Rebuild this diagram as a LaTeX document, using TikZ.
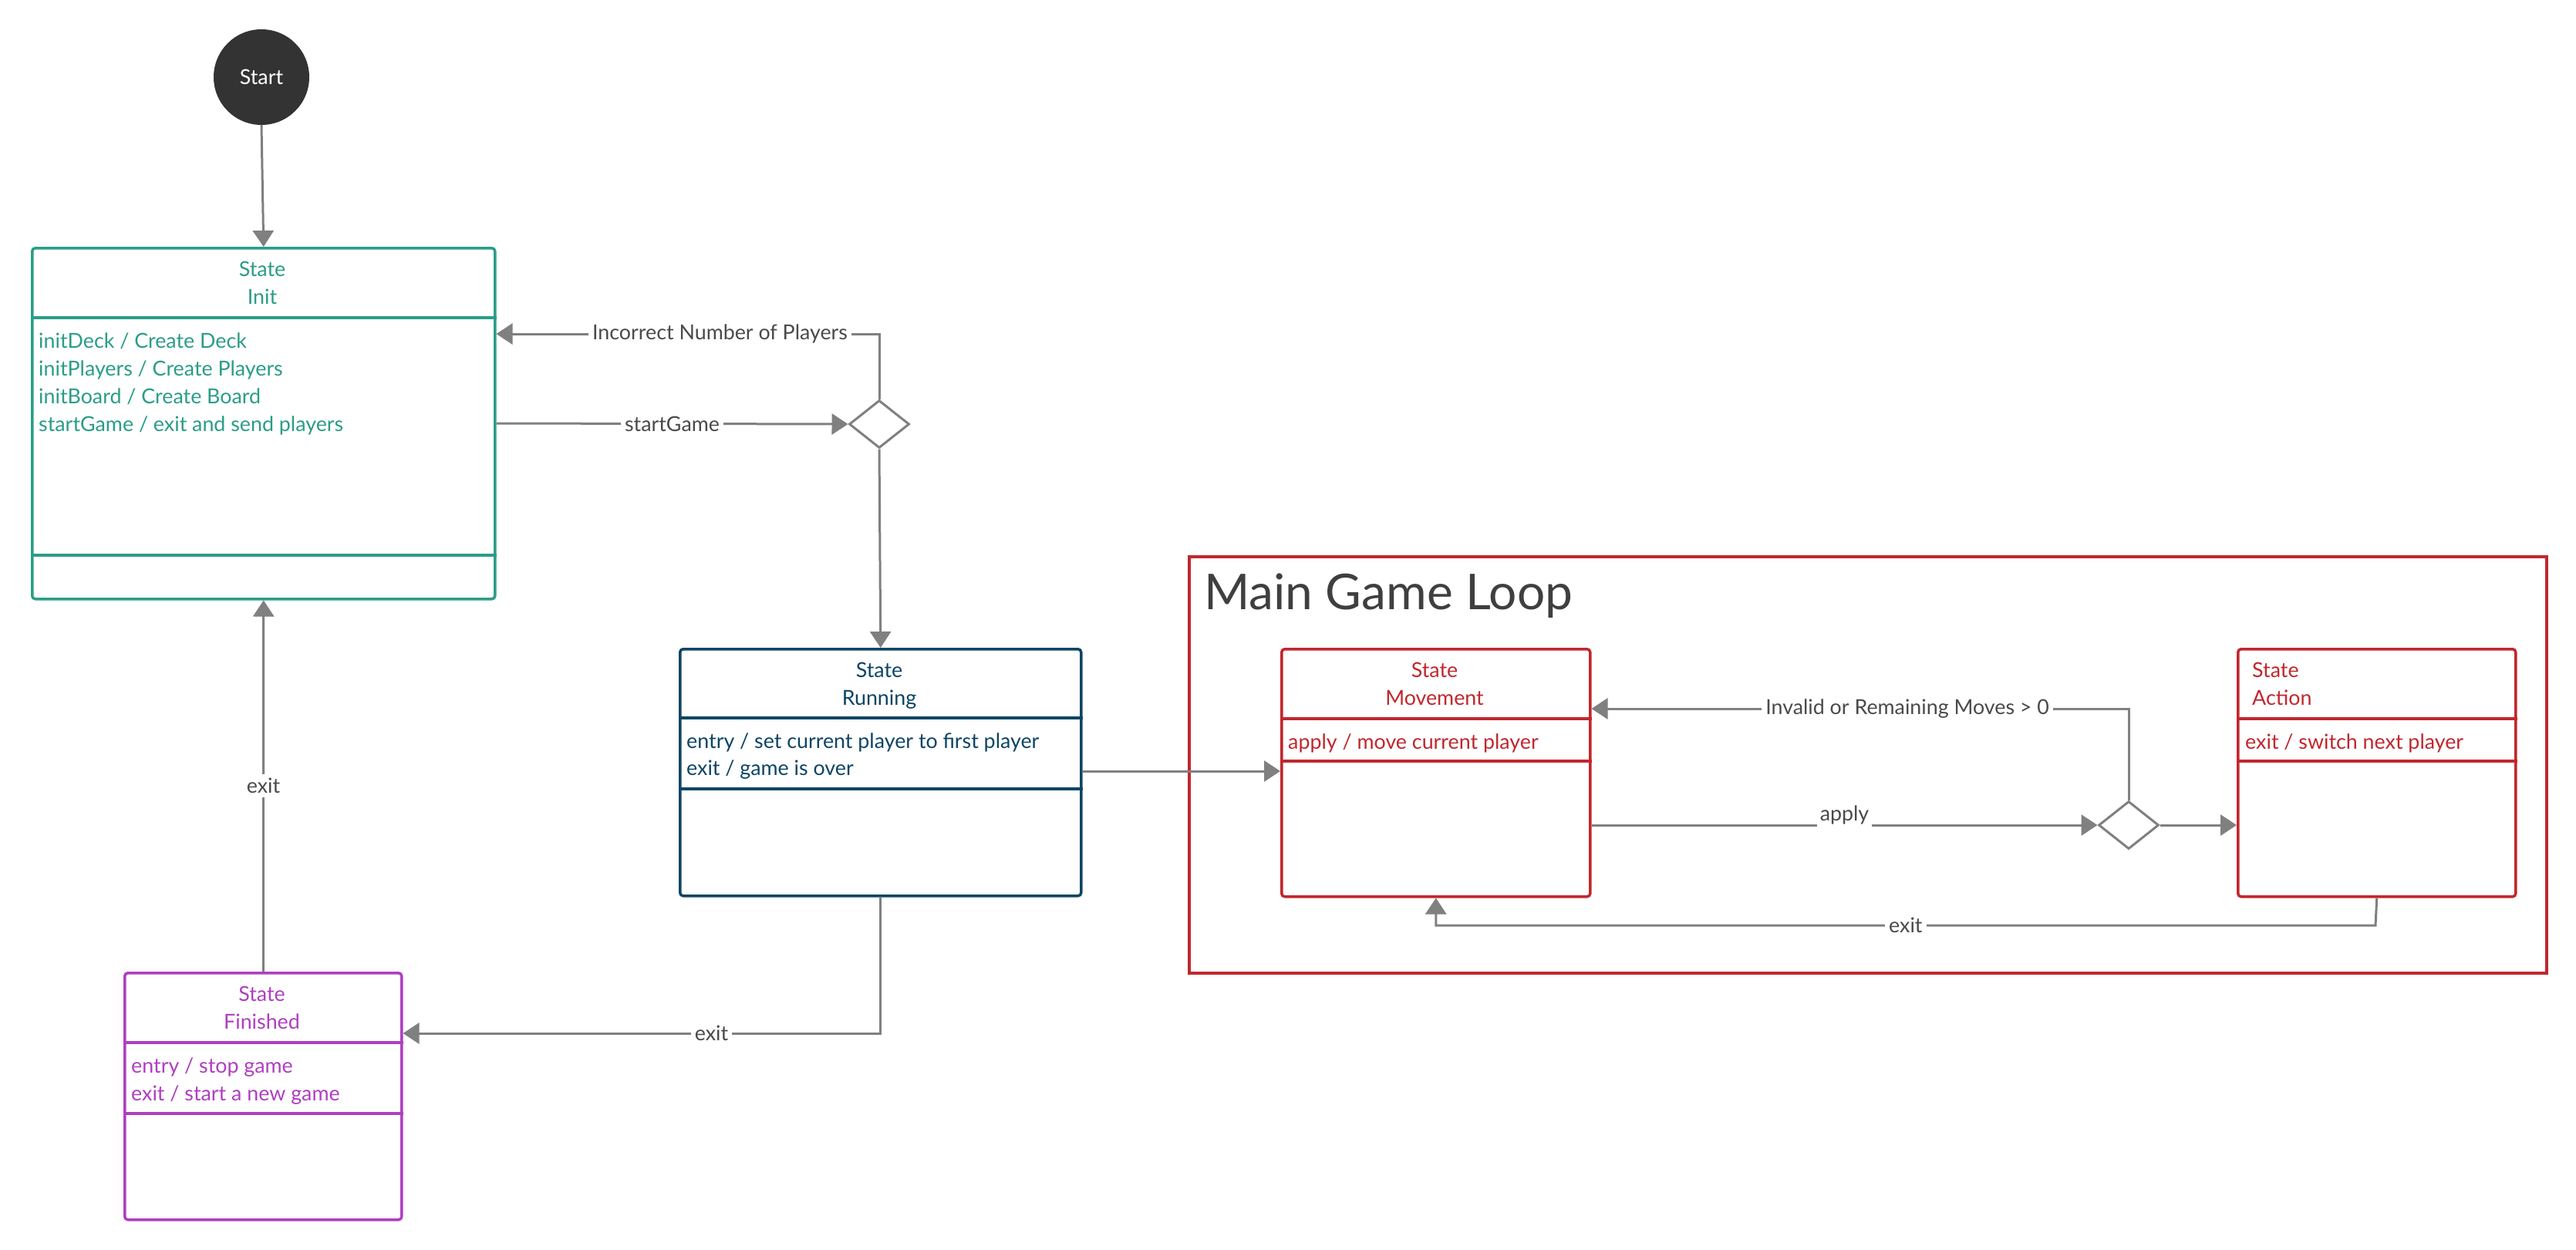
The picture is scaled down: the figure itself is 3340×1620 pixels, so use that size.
\documentclass[tikz,border=0pt]{standalone}
\usepackage{fontspec}
\setmainfont{Lato}
\usetikzlibrary{arrows.meta,shapes.geometric}
\definecolor{tealc}{HTML}{2A9D88}
\definecolor{navyc}{HTML}{0E4565}
\definecolor{redc}{HTML}{C1272D}
\definecolor{purpc}{HTML}{AF3FC0}
\definecolor{connc}{HTML}{808080}
\definecolor{labc}{HTML}{4A4A4A}
\definecolor{titlec}{HTML}{3F3F3F}
\definecolor{startc}{HTML}{333333}
\newcommand\bodyf{\fontsize{26.8}{33}\selectfont}
\tikzset{
  statebox/.style={draw, line width=3.5pt, rounded corners=4pt, anchor=north west, inner sep=0pt, fill=white},
  conn/.style={draw=connc, line width=3pt},
  arr/.style={conn, -{Triangle[length=21pt,width=27pt]}},
  lab/.style={fill=white, text=labc, font=\bodyf, inner sep=5pt},
  txt/.style={inner sep=0pt, font=\bodyf},
  choice/.style={diamond, draw=connc, line width=3pt, fill=white, minimum width=78pt, minimum height=62pt, inner sep=0pt}
}
\begin{document}
\begin{tikzpicture}[x=1pt,y=-1pt]
\useasboundingbox (0,0) rectangle (3340,1620);

% Start
\node[circle, fill=startc, minimum size=124pt, inner sep=0pt, text=white, font=\bodyf] (start) at (339,100) {Start};

% Init
\node[statebox, draw=tealc, minimum width=600pt, minimum height=455pt] (init) at (40,320) {};
\draw[tealc, line width=3.5pt] (init.west |- 0,412) -- (init.east |- 0,412);
\draw[tealc, line width=3.5pt] (init.west |- 0,720) -- (init.east |- 0,720);
\node[txt, text=tealc, anchor=base] (i1) at (340,358) {State};
\node[txt, text=tealc, anchor=base] (i2) at (340,394) {Init};
\node[txt, text=tealc, anchor=base west] (i3) at (50,451) {initDeck / Create Deck};
\node[txt, text=tealc, anchor=base west] (i4) at (50,487) {initPlayers / Create Players};
\node[txt, text=tealc, anchor=base west] (i5) at (50,523) {initBoard / Create Board};
\node[txt, text=tealc, anchor=base west] (i6) at (50,559) {startGame / exit and send players};

% Decision 1
\node[choice] (d1) at (1140,550) {};

% Running
\node[statebox, draw=navyc, minimum width=520pt, minimum height=320pt] (run) at (880,840) {};
\draw[navyc, line width=3.5pt] (run.west |- 0,931) -- (run.east |- 0,931);
\draw[navyc, line width=3.5pt] (run.west |- 0,1023) -- (run.east |- 0,1023);
\node[txt, text=navyc, anchor=base] (r1) at (1140,878) {State};
\node[txt, text=navyc, anchor=base] (r2) at (1140,914) {Running};
\node[txt, text=navyc, anchor=base west] (r3) at (890,970) {entry / set current player to first player};
\node[txt, text=navyc, anchor=base west] (r4) at (890,1005) {exit / game is over};

% Finished
\node[statebox, draw=purpc, minimum width=359pt, minimum height=320pt] (fin) at (160,1260) {};
\draw[purpc, line width=3.5pt] (fin.west |- 0,1352) -- (fin.east |- 0,1352);
\draw[purpc, line width=3.5pt] (fin.west |- 0,1444) -- (fin.east |- 0,1444);
\node[txt, text=purpc, anchor=base] (f1) at (339.5,1298) {State};
\node[txt, text=purpc, anchor=base] (f2) at (339.5,1334) {Finished};
\node[txt, text=purpc, anchor=base west] (f3) at (170,1391) {entry / stop game};
\node[txt, text=purpc, anchor=base west] (f4) at (170,1427) {exit / start a new game};

% Main Game Loop frame
\node[draw=redc, line width=3.5pt, anchor=north west, minimum width=1760pt, minimum height=540pt, inner sep=0pt] (loop) at (1540,720) {};
\node[anchor=base west, inner sep=0pt, text=titlec, font=\fontsize{64}{70}\selectfont] (title) at (1561,790) {Main Game Loop};

% Movement
\node[statebox, draw=redc, minimum width=400pt, minimum height=321pt] (mov) at (1660,840) {};
\draw[redc, line width=3.5pt] (mov.west |- 0,932) -- (mov.east |- 0,932);
\draw[redc, line width=3.5pt] (mov.west |- 0,987) -- (mov.east |- 0,987);
\node[txt, text=redc, anchor=base] (m1) at (1860,878) {State};
\node[txt, text=redc, anchor=base] (m2) at (1860,914) {Movement};
\node[txt, text=redc, anchor=base west] (m3) at (1670,971) {apply / move current player};

% Action
\node[statebox, draw=redc, minimum width=360pt, minimum height=321pt] (act) at (2900,840) {};
\draw[redc, line width=3.5pt] (act.west |- 0,932) -- (act.east |- 0,932);
\draw[redc, line width=3.5pt] (act.west |- 0,987) -- (act.east |- 0,987);
\node[txt, text=redc, anchor=base west] (a1) at (2920,878) {State};
\node[txt, text=redc, anchor=base west] (a2) at (2920,914) {Action};
\node[txt, text=redc, anchor=base west] (a3) at (2911,971) {exit / switch next player};

% Decision 2
\node[choice] (d2) at (2760,1070) {};

% Connectors
\draw[arr] (start.south) -- (init.north);
\draw[arr] (init.east |- 0,549) -- node[lab]{startGame} (d1.west);
\draw[arr] (d1.north) |- node[lab, pos=0.708]{Incorrect Number of Players} (init.east |- 0,433);
\draw[arr] (d1.south) -- (run.north);
\draw[arr] (run.south) |- node[lab, pos=0.677]{exit} (fin.east |- 0,1340);
\draw[arr] (fin.north) -- node[lab]{exit} (init.south);
\draw[arr] (run.east |- 0,1000) -- (mov.west |- 0,1000);
\draw[arr] (mov.east |- 0,1070) -- node[lab, anchor=south, inner sep=4pt, yshift=-5pt]{apply} (d2.west);
\draw[arr] (d2.north) |- node[lab, pos=0.706]{Invalid or Remaining Moves > 0} (mov.east |- 0,919);
\draw[arr] (d2.east) -- (act.west |- d2.east);
\coordinate (ex) at (3080,1200);
\draw[arr] (act.south) -- (ex) -| node[lab, pos=0.25]{exit} (mov.south);
\end{tikzpicture}
\end{document}
